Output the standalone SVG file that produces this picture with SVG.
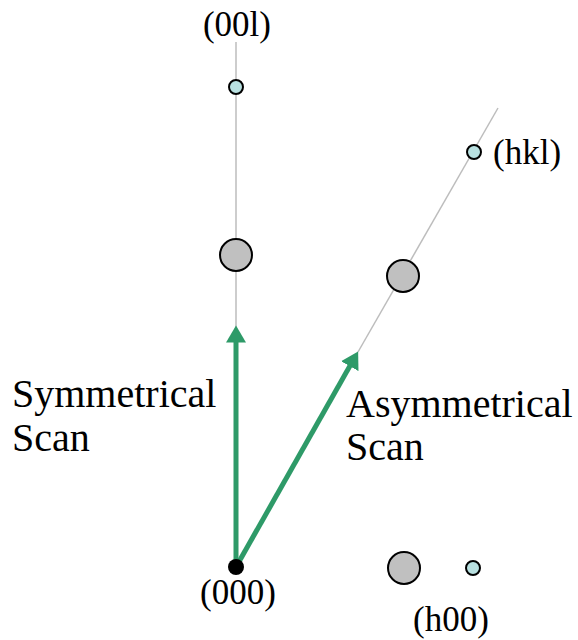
<svg xmlns="http://www.w3.org/2000/svg" width="578" height="640" viewBox="0 0 578 640">
<style>
text{font-family:"Liberation Serif","Times New Roman",serif;fill:#000}
.lbl{font-size:35px}
.big{font-size:40px}
.axis{stroke:#bdbdbd;stroke-width:1.5;fill:none}
.scan{stroke:#2e9a68;stroke-width:5;fill:none}
.gray{fill:#c0c0c0;stroke:#000;stroke-width:2}
.cyan{fill:#b8e0e0;stroke:#000;stroke-width:2}
</style>
<defs>
<marker id="ah" markerWidth="4" markerHeight="4" refX="0.5" refY="2" orient="auto" markerUnits="strokeWidth" viewBox="0 0 4 4">
<path d="M0,0 L3.4,2 L0,4 Z" fill="#2e9a68"/>
</marker>
</defs>
<g id="connectors">
<line class="axis" x1="236" y1="42" x2="236" y2="330"/>
<line class="axis" x1="358" y1="352" x2="498" y2="108"/>
<line class="scan" x1="236" y1="567" x2="236" y2="340" marker-end="url(#ah)"/>
<line class="scan" x1="236" y1="567" x2="351" y2="364" marker-end="url(#ah)"/>
</g>
<g id="n000"><circle cx="236" cy="567" r="8" fill="#000"/><text class="lbl" x="238" y="604" text-anchor="middle">(000)</text></g>
<g id="n00l"><circle class="cyan" cx="236" cy="87" r="7"/><text class="lbl" x="237" y="36" text-anchor="middle">(00l)</text></g>
<g id="n002"><circle class="gray" cx="236" cy="255" r="16"/></g>
<g id="nhkl"><circle class="cyan" cx="474" cy="152" r="7"/><text class="lbl" x="493" y="164">(hkl)</text></g>
<g id="nmid"><circle class="gray" cx="403" cy="276" r="16"/></g>
<g id="nh00a"><circle class="gray" cx="404" cy="568" r="16"/></g>
<g id="nh00"><circle class="cyan" cx="473" cy="568" r="7"/><text class="lbl" x="451" y="631" text-anchor="middle">(h00)</text></g>
<g id="sym"><text class="big" x="12" y="407">Symmetrical</text><text class="big" x="12" y="451">Scan</text></g>
<g id="asym"><text class="big" x="346" y="417">Asymmetrical</text><text class="big" x="346" y="460">Scan</text></g>
</svg>
